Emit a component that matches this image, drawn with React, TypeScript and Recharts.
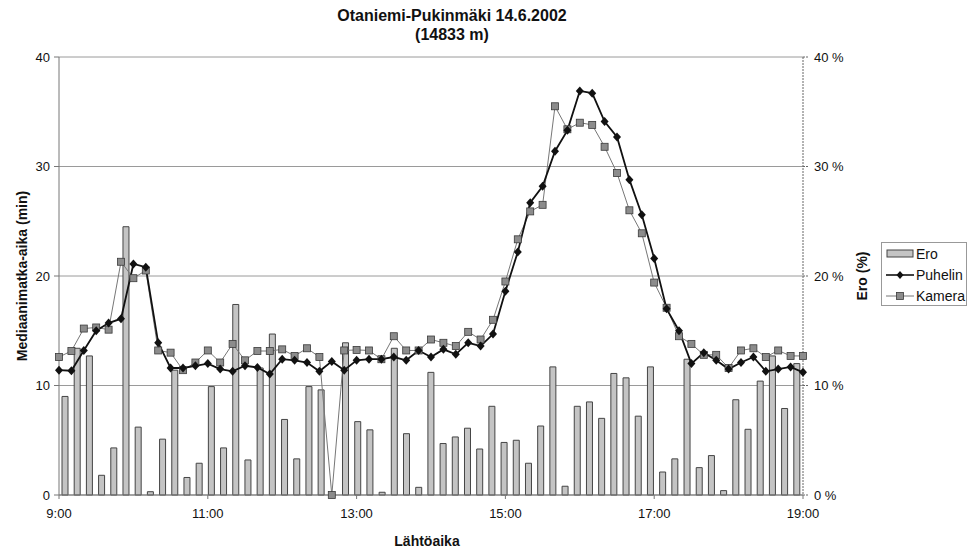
import { ComposedChart, Bar, Line, XAxis, YAxis, CartesianGrid } from 'recharts';

// 61 departures, 9:00 ... 19:00 every 10 min
const puhelin = [
  11.4, 11.35, 13.2, 15.0, 15.7, 16.1, 21.1, 20.8, 13.9, 11.6,
  11.6, 11.8, 12.0, 11.5, 11.3, 11.8, 11.65, 11.05, 12.4, 12.3,
  12.1, 11.3, 12.2, 11.4, 12.3, 12.4, 12.4, 12.6, 12.3, 13.2,
  12.6, 13.3, 12.85, 13.9, 13.6, 14.7, 18.6, 22.2, 26.7, 28.2,
  31.4, 33.3, 36.9, 36.7, 34.1, 32.7, 28.8, 25.6, 21.6, 17.0,
  15.0, 12.0, 13.0, 12.3, 11.5, 12.1, 12.6, 11.3, 11.5, 11.7,
  11.2,
];

const kamera = [
  12.6, 13.15, 15.2, 15.3, 15.1, 21.3, 19.8, 20.5, 13.2, 13.0,
  11.4, 12.1, 13.2, 12.1, 13.8, 12.3, 13.15, 13.15, 13.3, 12.7,
  13.4, 12.6, 0, 13.2, 13.25, 13.2, 12.4, 14.5, 13.2, 13.2,
  14.2, 13.9, 13.6, 14.9, 14.2, 16.0, 19.5, 23.35, 25.9, 26.5,
  35.5, 33.4, 34.0, 33.8, 31.8, 29.4, 26.0, 23.9, 19.4, 17.1,
  14.5, 13.8, 12.8, 12.8, 11.6, 13.2, 13.4, 12.6, 13.2, 12.7,
  12.7,
];

// Ero (%)
const ero = [
  9.0, 13.4, 12.7, 1.8, 4.3, 24.5, 6.2, 0.3, 5.1, 11.4,
  1.6, 2.9, 9.9, 4.3, 17.4, 3.2, 11.6, 14.7, 6.9, 3.3,
  9.9, 9.6, 0, 13.9, 6.7, 5.95, 0.25, 13.4, 5.6, 0.7,
  11.2, 4.7, 5.3, 6.1, 4.2, 8.1, 4.8, 5.0, 2.9, 6.3,
  11.7, 0.8, 8.1, 8.5, 7.0, 11.1, 10.7, 7.2, 11.7, 2.1,
  3.3, 12.4, 2.5, 3.6, 0.4, 8.7, 6.0, 10.4, 12.7, 7.9,
  12.0,
];

const timeTicks = [0, 12, 24, 36, 48, 60];
const valueTicks = [0, 10, 20, 30, 40];

const data = ero.map((e, i) => ({ i, ero: e, puhelin: puhelin[i], kamera: kamera[i] }));

const font = "'Liberation Sans', Arial, sans-serif";

const Diamond = (props: any) => {
  const { cx, cy, index } = props;
  if (cx == null || cy == null) return null;
  return (
    <path
      key={`d${index}`}
      d={`M${cx},${cy - 4.5}L${cx + 4},${cy}L${cx},${cy + 4.5}L${cx - 4},${cy}Z`}
      fill="#111"
    />
  );
};

const Square = (props: any) => {
  const { cx, cy, index } = props;
  if (cx == null || cy == null) return null;
  return <rect key={`s${index}`} x={cx - 3.5} y={cy - 3.5} width={7} height={7} fill="#8c8c8c" stroke="#3a3a3a" strokeWidth={0.8} />;
};

function LegendBox() {
  const row = { display: 'flex', alignItems: 'center', height: 21, fontSize: 14, color: '#111' } as const;
  return (
    <div
      style={{
        position: 'absolute', left: 881, top: 242, width: 86, height: 64,
        border: '1px solid #999', boxSizing: 'border-box', padding: '0 0 0 4px', fontFamily: font,
      }}
    >
      <div style={row}>
        <svg width={28} height={10}><rect x={1} y={1} width={26} height={7} fill="#c4c4c4" stroke="#444" strokeWidth={1} /></svg>
        <span style={{ marginLeft: 2 }}>Ero</span>
      </div>
      <div style={row}>
        <svg width={28} height={10}>
          <line x1={0} y1={5} x2={28} y2={5} stroke="#111" strokeWidth={1.6} />
          <path d="M14,1L17.5,5L14,9L10.5,5Z" fill="#111" />
        </svg>
        <span style={{ marginLeft: 2 }}>Puhelin</span>
      </div>
      <div style={row}>
        <svg width={28} height={10}>
          <line x1={0} y1={5} x2={28} y2={5} stroke="#777" strokeWidth={1} />
          <rect x={10.5} y={1.5} width={7} height={7} fill="#8c8c8c" stroke="#3a3a3a" strokeWidth={0.8} />
        </svg>
        <span style={{ marginLeft: 2 }}>Kamera</span>
      </div>
    </div>
  );
}

export default function App() {
  return (
    <div style={{ position: 'relative', width: 968, height: 553, background: '#fff', fontFamily: font }}>
      <style>{'body{margin:0}'}</style>
      <div style={{ position: 'absolute', left: 302, width: 300, top: 6, textAlign: 'center', fontWeight: 'bold', fontSize: 16, lineHeight: '19px', color: '#111' }}>
        Otaniemi-Pukinmäki 14.6.2002
        <br />
        (14833 m)
      </div>
      <ComposedChart
        width={968}
        height={553}
        data={data}
        margin={{ top: 57, right: 105, bottom: 28, left: 9 }}
      >
        <CartesianGrid xAxisId="a" yAxisId="l" vertical={false} stroke="#9a9a9a" />
        <XAxis
          xAxisId="a"
          dataKey="i"
          type="number"
          domain={[0, 60]}
          ticks={timeTicks}
          tickFormatter={(v: number) => `${9 + v / 6}:00`}
          height={30}
          stroke="#777"
          tickSize={4}
          tickMargin={10}
          tick={{ fill: '#111', fontSize: 13, fontFamily: font }}
        />
        <XAxis xAxisId="z" dataKey="i" type="category" height={0} hide />
        <YAxis
          yAxisId="l"
          domain={[0, 40]}
          ticks={valueTicks}
          width={50}
          stroke="#777"
          tickSize={5}
          tickMargin={4}
          tick={{ fill: '#111', fontSize: 13, fontFamily: font }}
        />
        <YAxis
          yAxisId="r"
          orientation="right"
          domain={[0, 40]}
          ticks={valueTicks}
          tickFormatter={(v: number) => `${v} %`}
          width={60}
          stroke="#666"
          strokeDasharray="2 1"
          tickSize={5}
          tickMargin={6}
          tick={{ fill: '#111', fontSize: 13, fontFamily: font }}
        />
        <Bar
          dataKey="ero"
          xAxisId="z"
          yAxisId="r"
          barSize={6}
          fill="#c4c4c4"
          stroke="#444"
          strokeWidth={1}
          isAnimationActive={false}
        />
        <Line
          dataKey="kamera"
          xAxisId="a"
          yAxisId="l"
          stroke="#777"
          strokeWidth={1}
          dot={Square}
          activeDot={false}
          isAnimationActive={false}
        />
        <Line
          dataKey="puhelin"
          xAxisId="a"
          yAxisId="l"
          stroke="#111"
          strokeWidth={1.8}
          dot={Diamond}
          activeDot={false}
          isAnimationActive={false}
        />
      </ComposedChart>
      <div
        style={{
          position: 'absolute', left: 22, top: 276, transform: 'translate(-50%, -50%) rotate(-90deg)',
          whiteSpace: 'nowrap', fontWeight: 'bold', fontSize: 14, color: '#111',
        }}
      >
        Mediaanimatka-aika (min)
      </div>
      <div
        style={{
          position: 'absolute', left: 862, top: 276, transform: 'translate(-50%, -50%) rotate(-90deg)',
          whiteSpace: 'nowrap', fontWeight: 'bold', fontSize: 14, color: '#111',
        }}
      >
        Ero (%)
      </div>
      <div style={{ position: 'absolute', left: 427, top: 541, transform: 'translate(-50%, -50%)', fontWeight: 'bold', fontSize: 14, color: '#111' }}>
        Lähtöaika
      </div>
      <LegendBox />
    </div>
  );
}
